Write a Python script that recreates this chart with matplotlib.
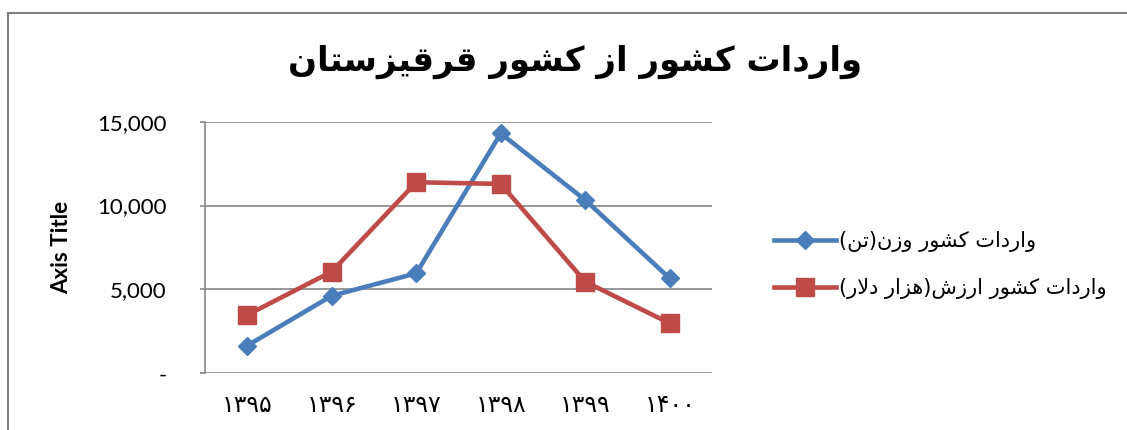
import matplotlib
matplotlib.use("Agg")
import matplotlib.pyplot as plt
from matplotlib.ticker import FuncFormatter
from matplotlib.lines import Line2D

# ---------------- data ----------------
years = ["۱۳۹۵", "۱۳۹۶", "۱۳۹۷", "۱۳۹۸", "۱۳۹۹", "۱۴۰۰"]
weight_ton = [1650, 4620, 5960, 14300, 10330, 5660]
value_kusd = [3480, 6060, 11390, 11290, 5460, 2980]
title_text = "واردات کشور از کشور قرقیزستان"
label_weight = "واردات کشور وزن(تن)"
label_value = "واردات کشور ارزش(هزار دلار)"
y_ticks = [0, 5000, 10000, 15000]
y_axis_title = "Axis Title"

# ---------------- simple Persian shaping (presentation forms + RTL order) ----------------
FORMS = {
    # char: (isolated, final, initial, medial)  None -> right-joining only
    "ا": ("\uFE8D", "\uFE8E", None, None),
    "د": ("\uFEA9", "\uFEAA", None, None),
    "ر": ("\uFEAD", "\uFEAE", None, None),
    "ز": ("\uFEAF", "\uFEB0", None, None),
    "و": ("\uFEED", "\uFEEE", None, None),
    "ت": ("\uFE95", "\uFE96", "\uFE97", "\uFE98"),
    "ش": ("\uFEB5", "\uFEB6", "\uFEB7", "\uFEB8"),
    "س": ("\uFEB1", "\uFEB2", "\uFEB3", "\uFEB4"),
    "ق": ("\uFED5", "\uFED6", "\uFED7", "\uFED8"),
    "ن": ("\uFEE5", "\uFEE6", "\uFEE7", "\uFEE8"),
    "ه": ("\uFEE9", "\uFEEA", "\uFEEB", "\uFEEC"),
    "ل": ("\uFEDD", "\uFEDE", "\uFEDF", "\uFEE0"),
    "ک": ("\uFB8E", "\uFB8F", "\uFB90", "\uFB91"),
    "ی": ("\uFBFC", "\uFBFD", "\uFBFE", "\uFBFF"),
}
LAM_ALEF = ("\uFEFB", "\uFEFC")
MIRROR = {"(": ")", ")": "("}


def shape(text):
    chars = list(text)
    units = []
    i = 0
    while i < len(chars):
        if chars[i] == "ل" and i + 1 < len(chars) and chars[i + 1] == "ا":
            units.append("LA")
            i += 2
        else:
            units.append(chars[i])
            i += 1

    def joins_left(u):
        if u == "LA":
            return False
        f = FORMS.get(u)
        return f is not None and f[2] is not None

    def is_letter(u):
        return u == "LA" or u in FORMS

    out = []
    for k, u in enumerate(units):
        prev_conn = k > 0 and joins_left(units[k - 1])
        if u == "LA":
            out.append(LAM_ALEF[1] if prev_conn else LAM_ALEF[0])
            continue
        if u not in FORMS:
            out.append(MIRROR.get(u, u))
            continue
        f = FORMS[u]
        next_conn = (k + 1 < len(units) and is_letter(units[k + 1]) and f[2] is not None)
        if prev_conn and next_conn:
            out.append(f[3])
        elif prev_conn:
            out.append(f[1])
        elif next_conn:
            out.append(f[2])
        else:
            out.append(f[0])
    return "".join(reversed(out))


# ---------------- figure ----------------
blue = "#4A7EBB"
red = "#BE4B48"
grid_gray = "#868686"

fig = plt.figure(figsize=(11.27, 4.30), dpi=100)
fig.patch.set_facecolor("white")

# chart-area border (top and left visible)
fig.add_artist(Line2D([8 / 1127, 8 / 1127], [0, 1 - 13 / 430], color="#7F7F7F", lw=1.5,
                      transform=fig.transFigure))
fig.add_artist(Line2D([8 / 1127, 1], [1 - 13 / 430, 1 - 13 / 430], color="#7F7F7F", lw=1.5,
                      transform=fig.transFigure))

ax = fig.add_axes([205 / 1127, 1 - 373.3 / 430, (712 - 205) / 1127, (373.3 - 121.7) / 430])

x = list(range(len(years)))
ax.plot(x, weight_ton, color=blue, lw=3.3, marker="D", ms=9.5, mfc=blue, mec=blue,
        label=shape(label_weight), zorder=3)
ax.plot(x, value_kusd, color=red, lw=3.3, marker="s", ms=13, mfc=red, mec=red,
        label=shape(label_value), zorder=3)

ax.set_xlim(-0.5, len(years) - 0.5)
ax.set_ylim(0, 15000)
ax.set_yticks(y_ticks)
ax.yaxis.set_major_formatter(FuncFormatter(lambda v, p: "-" if v == 0 else f"{int(v):,}"))
ax.set_xticks(x)
ax.set_xticklabels(years, fontfamily="DejaVu Sans", fontsize=17)

ax.grid(axis="y", color=grid_gray, lw=1.2)
ax.set_axisbelow(True)
for s in ["top", "right", "bottom"]:
    ax.spines[s].set_visible(False)
ax.spines["left"].set_color(grid_gray)
ax.spines["left"].set_linewidth(1.2)
ax.tick_params(axis="y", colors=grid_gray, length=3.5, width=1.2, labelcolor="black",
               labelsize=16, pad=24)
for lbl in ax.get_yticklabels():
    lbl.set_fontfamily("Lato")
ax.tick_params(axis="x", length=0, pad=14, labelcolor="black")

ax.set_ylabel(y_axis_title, fontfamily="Lato", fontweight="bold", fontsize=16)
ax.yaxis.set_label_coords((72 - 205) / 507, 0.5)

fig.text(575 / 1127, 1 - 62 / 430, shape(title_text), ha="center", va="center",
         fontsize=24.5, fontweight="bold", fontfamily="DejaVu Sans")

leg = ax.legend(loc="center left", bbox_to_anchor=(1.085, 0.43), frameon=False,
                prop={"family": "DejaVu Sans", "size": 15}, handlelength=3.0,
                handletextpad=0.15, labelspacing=1.25)

fig.savefig("out.png", dpi=100)
